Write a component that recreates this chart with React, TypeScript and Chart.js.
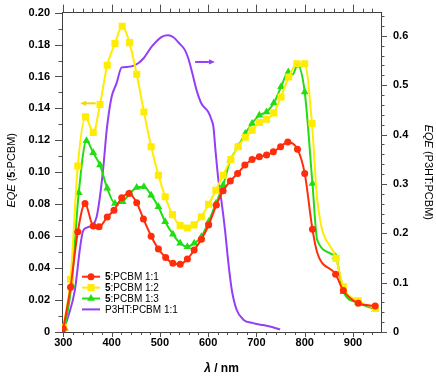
import React, { useEffect, useRef } from 'react';
import { Chart, registerables } from 'chart.js';

Chart.register(...registerables);

const FONT = '"Liberation Sans", Arial, Helvetica, sans-serif';

const seriesNames = ['5:PCBM 1:1', '5:PCBM 1:2', '5:PCBM 1:3', 'P3HT:PCBM 1:1'];

const lambda11 = [300, 315, 330, 345, 362, 374, 391, 405, 421, 436, 452, 466, 482, 497, 512, 527, 542, 557, 571, 586, 601, 617, 631, 646, 661, 676, 691, 706, 721, 735, 750, 765, 785, 800, 816, 826, 864, 880, 911, 946];
const eqe11 = [0.002, 0.028, 0.0627, 0.0805, 0.0663, 0.0659, 0.072, 0.0763, 0.084, 0.0868, 0.081, 0.0707, 0.06, 0.052, 0.0467, 0.043, 0.0425, 0.0457, 0.0513, 0.058, 0.067, 0.0795, 0.0884, 0.0945, 0.0993, 0.1045, 0.108, 0.1097, 0.1108, 0.1128, 0.116, 0.119, 0.1145, 0.0993, 0.0644, 0.0496, 0.0361, 0.026, 0.018, 0.0163];

const lambda12 = [300, 315, 330, 346, 362, 376, 391, 407, 422, 437, 452, 467, 482, 497, 511, 526, 542, 557, 571, 586, 601, 616, 631, 647, 662, 677, 691, 706, 721, 736, 751, 767, 784, 800, 815, 826, 865, 880, 911, 946];
const eqe12 = [0.003, 0.033, 0.104, 0.1347, 0.125, 0.1425, 0.167, 0.1806, 0.1914, 0.1812, 0.1614, 0.1378, 0.116, 0.0982, 0.0847, 0.0735, 0.0666, 0.0651, 0.0671, 0.0722, 0.08, 0.0888, 0.0982, 0.108, 0.116, 0.122, 0.1264, 0.1312, 0.1332, 0.1372, 0.1472, 0.1597, 0.168, 0.168, 0.1306, 0.0826, 0.0461, 0.0283, 0.0196, 0.0148];

const lambda13 = [303, 317, 332, 348, 362, 376, 391, 407, 423, 438, 452, 467, 482, 497, 511, 527, 542, 557, 571, 586, 601, 616, 631, 646, 662, 677, 691, 706, 721, 736, 751, 766, 775, 785, 800, 816, 826, 864, 880, 911, 946];
const eqe13 = [0.0023, 0.0296, 0.0872, 0.1197, 0.1122, 0.1045, 0.09, 0.0805, 0.0815, 0.0868, 0.0905, 0.0909, 0.0857, 0.0784, 0.069, 0.0612, 0.0555, 0.0534, 0.0555, 0.0596, 0.069, 0.0805, 0.092, 0.1076, 0.116, 0.1243, 0.1306, 0.1357, 0.1378, 0.1434, 0.1535, 0.1628, 0.1612, 0.167, 0.1503, 0.093, 0.0575, 0.0471, 0.0252, 0.0183, 0.0142];

const lambdaP3HT = [300, 310, 324, 335, 341, 350, 361, 369, 376, 383, 390, 400, 410, 421, 431, 448, 466, 483, 504, 517, 528, 540, 552, 559, 567, 576, 586, 600, 607, 611, 615, 621, 628, 635, 642, 649, 659, 673, 693, 714, 728, 749];
const eqeP3HT = [0.004, 0.031, 0.085, 0.173, 0.205, 0.212, 0.217, 0.233, 0.275, 0.335, 0.41, 0.476, 0.503, 0.536, 0.537, 0.54, 0.554, 0.578, 0.598, 0.601, 0.597, 0.585, 0.571, 0.554, 0.525, 0.49, 0.463, 0.446, 0.43, 0.415, 0.37, 0.31, 0.262, 0.206, 0.139, 0.085, 0.045, 0.025, 0.018, 0.014, 0.011, 0.005];

const unmarkedLambdas = [775, 826];

const xTickLabels = ['300', '400', '500', '600', '700', '800', '900'];
const leftTickLabels = ['0', '0.02', '0.04', '0.06', '0.08', '0.10', '0.12', '0.14', '0.16', '0.18', '0.20'];
const rightTickLabels = ['0', '0.1', '0.2', '0.3', '0.4', '0.5', '0.6'];

const xMin = 297.3;
const xMax = 958;
const leftMax = 0.2;
const rightMax = 0.647;

const RED = '#ff2d0a';
const YELLOW = '#ffec00';
const GREEN = '#22dd11';
const PURPLE = '#9340f5';
const AXIS = '#404040';
const TICK = '#505050';
const HIDDEN = 'rgba(0,0,0,0)';

type Seg = { text: string; font: string };

function drawRich(ctx: CanvasRenderingContext2D, segs: Seg[], cx: number, cy: number, rot: number, align: 'center' | 'left' = 'center') {
  ctx.save();
  ctx.translate(cx, cy);
  ctx.rotate(rot);
  let total = 0;
  segs.forEach((s) => { ctx.font = s.font; total += ctx.measureText(s.text).width; });
  let x = align === 'center' ? -total / 2 : 0;
  ctx.textBaseline = 'middle';
  ctx.textAlign = 'left';
  ctx.fillStyle = '#000';
  segs.forEach((s) => { ctx.font = s.font; ctx.fillText(s.text, x, 0); x += ctx.measureText(s.text).width; });
  ctx.restore();
}

function drawMarker(ctx: CanvasRenderingContext2D, style: string, x: number, y: number, r: number, color: string) {
  ctx.save();
  ctx.fillStyle = color;
  ctx.beginPath();
  if (style === 'circle') {
    ctx.arc(x, y, r, 0, Math.PI * 2);
  } else if (style === 'rect') {
    const s = Math.SQRT1_2 * r;
    ctx.rect(x - s, y - s, 2 * s, 2 * s);
  } else if (style === 'triangle') {
    ctx.moveTo(x, y - r);
    ctx.lineTo(x + r * 0.866, y + r * 0.5);
    ctx.lineTo(x - r * 0.866, y + r * 0.5);
    ctx.closePath();
  }
  ctx.fill();
  ctx.restore();
}

function drawArrow(ctx: CanvasRenderingContext2D, xTail: number, xHead: number, y: number, color: string) {
  const dir = xHead > xTail ? 1 : -1;
  const hl = 6;
  const hw = 2.6;
  ctx.save();
  ctx.strokeStyle = color;
  ctx.fillStyle = color;
  ctx.lineWidth = 2;
  ctx.beginPath();
  ctx.moveTo(xTail, y);
  ctx.lineTo(xHead - dir * hl, y);
  ctx.stroke();
  ctx.beginPath();
  ctx.moveTo(xHead, y);
  ctx.lineTo(xHead - dir * hl, y - hw);
  ctx.lineTo(xHead - dir * hl, y + hw);
  ctx.closePath();
  ctx.fill();
  ctx.restore();
}

// tick marks (major + minor) placed through the scales
function drawTickSet(ctx: CanvasRenderingContext2D, scale: any, side: string, ca: any, from: number, to: number, step: number, majorEvery: number, major: number, minor: number) {
  ctx.save();
  ctx.strokeStyle = TICK;
  ctx.lineWidth = 1;
  ctx.setLineDash([]);
  const n = Math.round((to - from) / step);
  for (let i = 0; i <= n; i++) {
    const v = from + i * step;
    const p = Math.round(scale.getPixelForValue(v)) + 0.5;
    const len = i % majorEvery === 0 ? major : minor;
    ctx.beginPath();
    if (side === 'left') { ctx.moveTo(ca.left, p); ctx.lineTo(ca.left - len, p); }
    else if (side === 'right') { ctx.moveTo(ca.right, p); ctx.lineTo(ca.right + len, p); }
    else if (side === 'top') { ctx.moveTo(p, ca.top); ctx.lineTo(p, ca.top - len); }
    else { ctx.moveTo(p, ca.bottom); ctx.lineTo(p, ca.bottom + len); }
    ctx.stroke();
  }
  ctx.restore();
}

const overlayPlugin = {
  id: 'overlay',
  afterDraw(chart: any) {
    const { ctx, chartArea: ca, scales } = chart;
    const cy = (ca.top + ca.bottom) / 2;
    const cx = (ca.left + ca.right) / 2;

    drawTickSet(ctx, scales.y, 'left', ca, 0, 0.2, 0.01, 2, 7, 3.5);
    drawTickSet(ctx, scales.y2, 'right', ca, 0, 0.64, 0.02, 5, 6, 3.5);
    drawTickSet(ctx, scales.x, 'top', ca, 300, 940, 20, 5, 8, 4);
    drawTickSet(ctx, scales.x, 'bottom', ca, 300, 940, 20, 5, 5, 3);

    // arrows indicating the axis of each curve family
    const yA = scales.y.getPixelForValue(0.1432);
    drawArrow(ctx, scales.x.getPixelForValue(367), scales.x.getPixelForValue(335), yA, '#f5d800');
    const yB = scales.y2.getPixelForValue(0.547);
    drawArrow(ctx, scales.x.getPixelForValue(573), scales.x.getPixelForValue(614), yB, PURPLE);

    // legend
    const styles = ['circle', 'rect', 'triangle', 'none'];
    const radii = [3.5, 5, 4.5, 0];
    const colors = [RED, YELLOW, GREEN, PURPLE];
    const lx0 = ca.left + 20;
    const lx1 = ca.left + 38;
    const ly0 = 276.7;
    seriesNames.forEach((name, i) => {
      const y = ly0 + i * 10.9;
      ctx.save();
      ctx.strokeStyle = colors[i];
      ctx.lineWidth = 2;
      ctx.beginPath();
      ctx.moveTo(lx0, y);
      ctx.lineTo(lx1, y);
      ctx.stroke();
      ctx.restore();
      if (styles[i] !== 'none') drawMarker(ctx, styles[i], (lx0 + lx1) / 2, y, radii[i], colors[i]);
      const segs: Seg[] = name.startsWith('5:')
        ? [{ text: '5', font: `bold 10px ${FONT}` }, { text: name.slice(1), font: `10px ${FONT}` }]
        : [{ text: name, font: `10px ${FONT}` }];
      drawRich(ctx, segs, lx1 + 5, y + 0.5, 0, 'left');
    });

    // axis titles
    drawRich(ctx, [
      { text: 'EQE', font: `italic 11px ${FONT}` },
      { text: ' (', font: `11px ${FONT}` },
      { text: '5', font: `bold 11px ${FONT}` },
      { text: ':PCBM)', font: `11px ${FONT}` },
    ], 12, cy - 2, -Math.PI / 2);
    drawRich(ctx, [
      { text: 'EQE', font: `italic 11px ${FONT}` },
      { text: ' (P3HT:PCBM)', font: `11px ${FONT}` },
    ], 428, cy, Math.PI / 2);
    drawRich(ctx, [
      { text: 'λ', font: `italic bold 12px ${FONT}` },
      { text: ' / nm', font: `bold 12px ${FONT}` },
    ], cx, 369, 0);
  },
};

export default function App() {
  const ref = useRef<HTMLCanvasElement>(null);

  useEffect(() => {
    if (!ref.current) return;
    const pts = (xs: number[], ys: number[]) => xs.map((x, i) => ({ x, y: ys[i] }));
    const radiusFn = (r: number) => (c: any) => (c.raw && unmarkedLambdas.includes(c.raw.x) ? 0 : r);
    const tickFont = { family: FONT, size: 11, weight: 'bold' as const };

    const chart = new Chart(ref.current, {
      type: 'line',
      data: {
        datasets: [
          {
            label: seriesNames[0], data: pts(lambda11, eqe11), yAxisID: 'y',
            borderColor: RED, backgroundColor: RED, borderWidth: 2,
            pointStyle: 'circle', pointRadius: radiusFn(3.5), pointBackgroundColor: RED, pointBorderColor: RED, pointBorderWidth: 0,
            cubicInterpolationMode: 'monotone',
          },
          {
            label: seriesNames[1], data: pts(lambda12, eqe12), yAxisID: 'y',
            borderColor: YELLOW, backgroundColor: YELLOW, borderWidth: 2,
            pointStyle: 'rect', pointRadius: radiusFn(5), pointBackgroundColor: YELLOW, pointBorderColor: YELLOW, pointBorderWidth: 0,
            cubicInterpolationMode: 'monotone',
          },
          {
            label: seriesNames[2], data: pts(lambda13, eqe13), yAxisID: 'y',
            borderColor: GREEN, backgroundColor: GREEN, borderWidth: 2,
            pointStyle: 'triangle', pointRadius: radiusFn(4.5), pointBackgroundColor: GREEN, pointBorderColor: GREEN, pointBorderWidth: 0,
            cubicInterpolationMode: 'monotone',
          },
          {
            label: seriesNames[3], data: pts(lambdaP3HT, eqeP3HT), yAxisID: 'y2',
            borderColor: PURPLE, backgroundColor: PURPLE, borderWidth: 2,
            pointRadius: 0,
            cubicInterpolationMode: 'monotone',
          },
        ],
      },
      options: {
        responsive: false,
        animation: false,
        devicePixelRatio: 1,
        events: [],
        layout: { padding: 0 },
        plugins: { legend: { display: false }, tooltip: { enabled: false }, title: { display: false } },
        scales: {
          x: {
            type: 'linear', position: 'bottom', min: xMin, max: xMax,
            border: { display: true, color: AXIS, width: 1 },
            grid: { display: true, drawOnChartArea: false, drawTicks: true, tickLength: 5, tickColor: HIDDEN },
            ticks: {
              stepSize: 20, includeBounds: false, autoSkip: false, maxTicksLimit: 1000, maxRotation: 0, minRotation: 0,
              padding: -1, color: '#000', font: tickFont,
              callback: (v: any) => { const s = String(Math.round(Number(v))); return xTickLabels.includes(s) ? s : ''; },
            },
            afterFit: (s: any) => { s.height = 45; },
          },
          x2: {
            type: 'linear', position: 'top', min: xMin, max: xMax,
            border: { display: true, color: AXIS, width: 1 },
            grid: { display: true, drawOnChartArea: false, drawTicks: true, tickLength: 8, tickColor: HIDDEN },
            ticks: { stepSize: 20, includeBounds: false, autoSkip: false, maxTicksLimit: 1000, color: HIDDEN, callback: () => '' },
            afterFit: (s: any) => { s.height = 12; },
          },
          y: {
            type: 'linear', position: 'left', min: 0, max: leftMax,
            border: { display: true, color: AXIS, width: 1 },
            grid: { display: true, drawOnChartArea: false, drawTicks: true, tickLength: 7, tickColor: HIDDEN },
            ticks: {
              stepSize: 0.01, includeBounds: false, autoSkip: false, maxTicksLimit: 1000, padding: 5, color: '#000', font: tickFont,
              callback: (v: any) => { const k = Math.round(Number(v) * 100); return k % 2 === 0 ? leftTickLabels[k / 2] : ''; },
            },
            afterFit: (s: any) => { s.width = 62; },
          },
          y2: {
            type: 'linear', position: 'right', min: 0, max: rightMax,
            border: { display: true, color: AXIS, width: 1 },
            grid: { display: true, drawOnChartArea: false, drawTicks: true, tickLength: 6, tickColor: HIDDEN },
            ticks: {
              stepSize: 0.02, includeBounds: false, autoSkip: false, maxTicksLimit: 1000, padding: 6, color: '#000', font: tickFont,
              callback: (v: any) => { const k = Math.round(Number(v) * 50); return k % 5 === 0 ? rightTickLabels[k / 5] : ''; },
            },
            afterFit: (s: any) => { s.width = 55; },
          },
        },
      } as any,
      plugins: [overlayPlugin],
    });
    return () => chart.destroy();
  }, []);

  return (
    <div style={{ position: 'fixed', left: 0, top: 0, width: 436, height: 377, background: '#fff' }}>
      <canvas ref={ref} width={436} height={377} style={{ width: 436, height: 377, display: 'block' }} />
    </div>
  );
}
